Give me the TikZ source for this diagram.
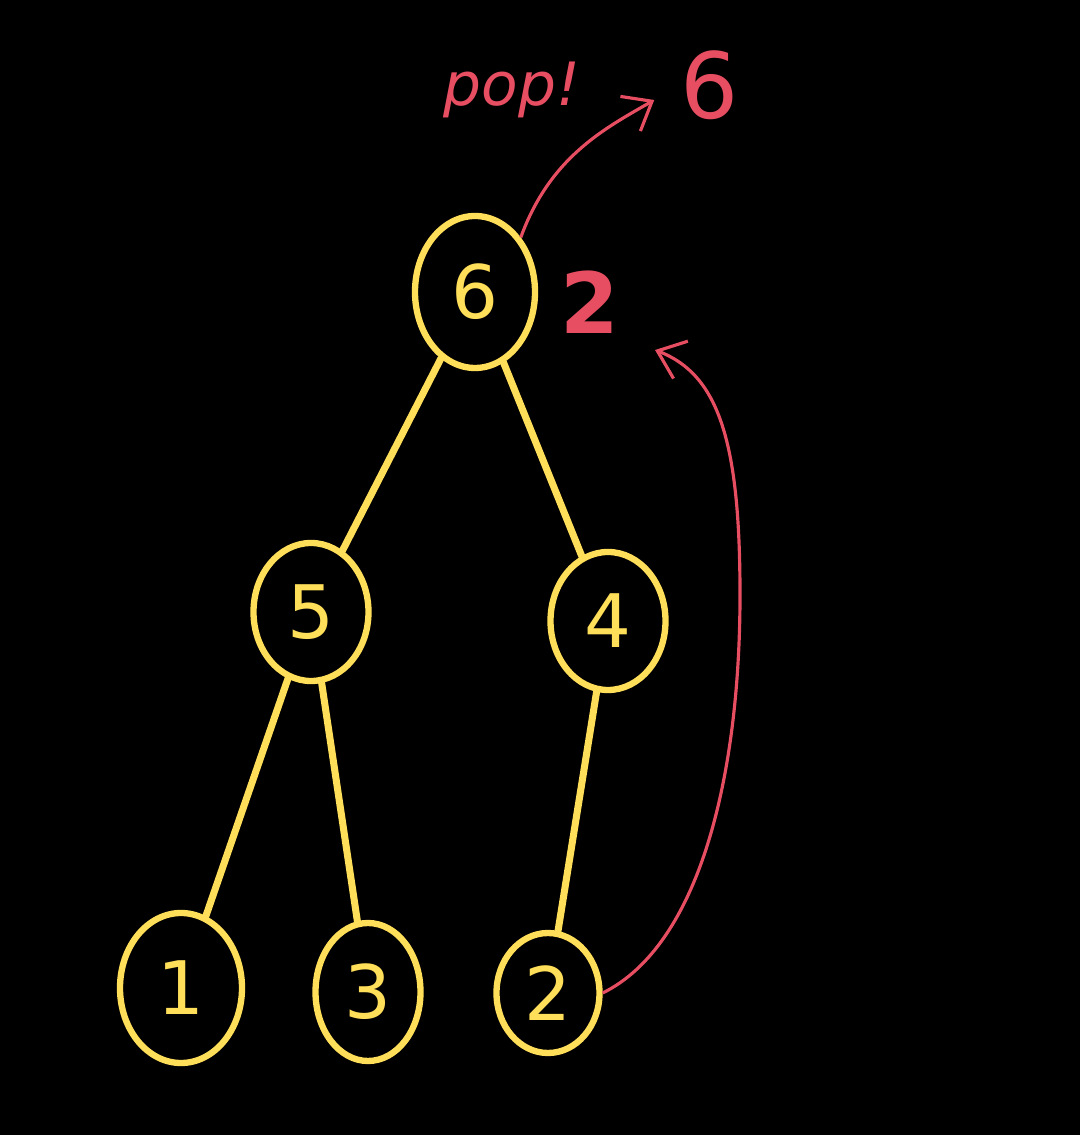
\documentclass[tikz,border=0pt]{standalone}
\usepackage{fontspec}
\setmainfont{DejaVu Sans}
\usetikzlibrary{shapes.geometric,arrows.meta}
\definecolor{heapyellow}{RGB}{255,222,90}
\definecolor{popred}{RGB}{232,78,98}
\tikzset{
  heapnode/.style={ellipse, draw=heapyellow, line width=1.8pt, text=heapyellow,
    minimum width=1.15cm, minimum height=1.38cm, inner sep=0pt,
    font=\fontsize{21}{25}\selectfont},
  heapedge/.style={heapyellow, line width=2pt, line cap=round},
  redarrow/.style={popred, line width=0.9pt, -{Straight Barb[length=2.5mm,width=4mm]}},
  redtext/.style={text=popred, inner sep=0pt}
}
\begin{document}
\begin{tikzpicture}
        \fill[black] (0,0) rectangle (10.8,11.35);
        \useasboundingbox (0,0) rectangle (10.8,11.35);

        % Draw heap nodes
        \node[heapnode, minimum width=1.2cm, minimum height=1.52cm] (n6) at (4.75,8.43) {6};
        \node[heapnode] (n5) at (3.11,5.23) {5};
        \node[heapnode] (n4) at (6.08,5.14) {4};
        \node[heapnode, minimum width=1.22cm, minimum height=1.5cm] (n1) at (1.81,1.47) {1};
        \node[heapnode, minimum width=1.05cm] (n3) at (3.68,1.43) {3};
        \node[heapnode, minimum width=1.03cm, minimum height=1.2cm] (n2) at (5.48,1.42) {2};

        % Draw edges
        \foreach \a/\b in {n6/n5, n6/n4, n5/n1, n5/n3, n4/n2} {
            \draw[heapedge] (\a) -- (\b);
        }

        % Popped root
        \node[redtext, font=\fontsize{17}{21}\itshape] (poptext) at (5.12,10.45) {pop!};
        \node[redtext, font=\fontsize{26}{30}\selectfont] (popsix) at (7.10,10.5) {6};
        \draw[redarrow, shorten >=3mm] (n6.50) to[out=70,in=210] (popsix.west);

        % Last element moves up
        \node[redtext, font=\fontsize{24}{28}\selectfont\bfseries] (newtop) at (5.90,8.33) {2};
        \coordinate (ret) at (6.55,7.85);
        \draw[redarrow] (n2.east) .. controls (7.0,1.9) and (7.4,3.6) .. (7.4,5.4)
            .. controls (7.4,6.9) and (7.2,7.6) .. (ret);
\end{tikzpicture}
\end{document}
